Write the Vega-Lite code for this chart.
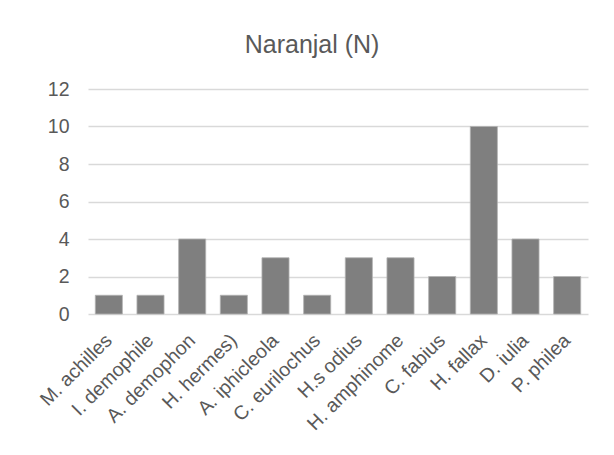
{
  "$schema": "https://vega.github.io/schema/vega-lite/v6.json",
  "autosize": "none",
  "width": 500,
  "height": 225,
  "padding": {"left": 88, "top": 89, "right": 26, "bottom": 141},
  "background": "white",
  "title": {"text": "Naranjal (N)", "font": "Liberation Sans", "fontSize": 25, "fontWeight": "normal", "color": "#595959", "anchor": "middle", "frame": "bounds", "baseline": "alphabetic", "offset": 1},
  "data": {"values": [
    {"species": "M. achilles", "n": 1},
    {"species": "I. demophile", "n": 1},
    {"species": "A. demophon", "n": 4},
    {"species": "H. hermes)", "n": 1},
    {"species": "A. iphicleola", "n": 3},
    {"species": "C. eurilochus", "n": 1},
    {"species": "H.s odius", "n": 3},
    {"species": "H. amphinome", "n": 3},
    {"species": "C. fabius", "n": 2},
    {"species": "H. fallax", "n": 10},
    {"species": "D. iulia", "n": 4},
    {"species": "P. philea", "n": 2}
  ]},
  "mark": {"type": "bar", "color": "#7f7f7f", "stroke": "#b3b3b3", "strokeWidth": 0.8},
  "encoding": {
    "x": {"field": "species", "type": "nominal", "sort": null, "title": null,
      "scale": {"paddingInner": 0.35, "paddingOuter": 0.175},
      "axis": {"labelAngle": -45, "labelAlign": "right", "labelBaseline": "middle", "labelFont": "Liberation Sans", "labelFontSize": 19.5, "labelColor": "#595959", "ticks": false, "domain": false, "labelPadding": 23, "labelOverlap": false}},
    "y": {"field": "n", "type": "quantitative", "title": null,
      "scale": {"domain": [0, 12]},
      "axis": {"values": [0, 2, 4, 6, 8, 10, 12], "labelFont": "Liberation Sans", "labelFontSize": 19.5, "labelColor": "#595959", "ticks": false, "domain": false, "gridColor": "#d9d9d9", "gridWidth": 1.5, "labelPadding": 19}}
  },
  "config": {"view": {"stroke": null}}
}
